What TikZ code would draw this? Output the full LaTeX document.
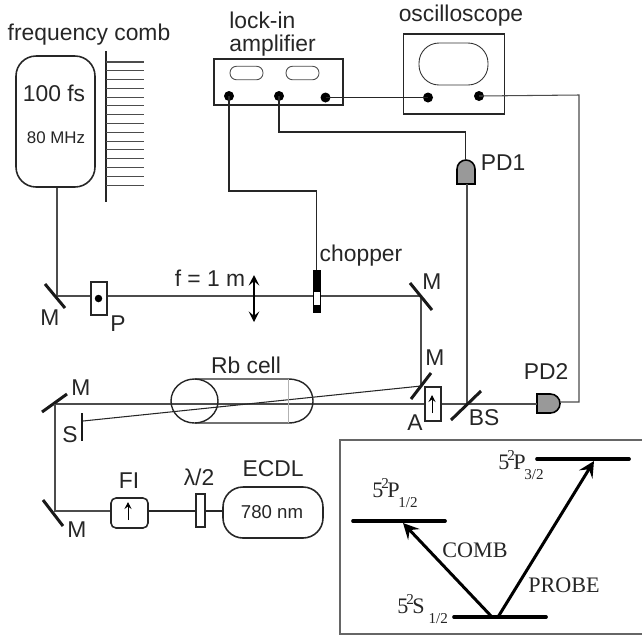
\documentclass[tikz,border=0pt]{standalone}
\usepackage{fontspec}
\setmainfont{Liberation Sans}
\newfontfamily\levelfont{Liberation Serif}
\usetikzlibrary{arrows.meta,calc}
\tikzset{
  beam/.style={line width=0.8pt,color=black!70},
  wire/.style={line width=0.6pt,color=black!85},
  mirror/.style={line width=1.7pt,color=black!90},
  device/.style={draw=black!85,line width=0.9pt,inner sep=0pt,fill=white},
  roundbox/.style={device,rounded corners=0.4cm},
  jack/.style={circle,fill=black,inner sep=0pt,minimum size=0.2cm},
  lab/.style={inner sep=0pt,font=\fontsize{13}{15}\selectfont,text=black!85},
  level/.style={line width=2.1pt,line cap=round},
  trans/.style={line width=1.7pt,-{Stealth[length=9pt,width=9pt,inset=3.5pt]}},
  levellab/.style={inner sep=0pt,anchor=base west,font=\fontsize{12.6}{14}\selectfont\levelfont,text=black!85},
  photo/.style={draw=black,line width=0.9pt,fill=black!40}
}
\newcommand{\termname}[2]{5\kern-1.2pt\raisebox{0.85ex}{\fontsize{8.6}{10}\selectfont 2}\kern-0.8pt #1\kern-0.8pt\raisebox{-1ex}{\fontsize{8.6}{10}\selectfont #2}}
\begin{document}
\begin{tikzpicture}[x=0.02cm,y=-0.02cm]
\useasboundingbox (0,0) rectangle (642,637);

% frequency comb
\node [roundbox,minimum width=1.58cm,minimum height=2.62cm] (comb) at (55.5,121.5) {};
\node [lab] (combname) at (89,35) {frequency comb};
\node [lab] (combpulse) at (54,93) {100 fs};
\node [inner sep=0pt,font=\fontsize{9.6}{11}\selectfont,text=black!85] (combrate) at (56,138) {80 MHz};
\draw [wire] (106,51) -- (106,202);
\foreach \i in {0,...,14}
  \draw [wire,black!70] (106,62+8.79*\i) -- (144,62+8.79*\i);

% lock-in amplifier
\node [device,minimum width=2.58cm,minimum height=0.92cm] (lockin) at (278.5,82) {};
\node [lab,anchor=west] (lockinname) at (229,20) {lock-in};
\node [lab,anchor=west] (lockinname2) at (229,46) {amplifier};
\node [draw=black!70,line width=0.5pt,rounded corners=0.13cm,minimum width=0.66cm,minimum height=0.27cm,inner sep=0pt] (knobA) at (246.5,73) {};
\node [draw=black!70,line width=0.5pt,rounded corners=0.13cm,minimum width=0.66cm,minimum height=0.27cm,inner sep=0pt] (knobB) at (302.5,73) {};
\node [jack] (refjack) at (229,96) {};
\node [jack] (sigjack) at (279,96) {};
\node [jack] (outjack) at (325.5,97.5) {};

% oscilloscope
\node [device,minimum width=2.02cm,minimum height=1.6cm] (scope) at (454,74) {};
\node [lab] (scopename) at (461,16) {oscilloscope};
\node [draw=black!80,line width=0.5pt,rounded corners=0.4cm,minimum width=1.38cm,minimum height=0.84cm,inner sep=0pt] (screen) at (453.5,64) {};
\node [jack] (chAjack) at (428,97.5) {};
\node [jack] (chBjack) at (479,96) {};

% detectors
\draw [photo] (457,184) [rounded corners=0.18cm] -- (457,160) -- (475,160) [sharp corners] -- (475,184) -- cycle;
\coordinate (pdonein) at (465.5,160);
\coordinate (pdoneout) at (467,184);
\node [lab] (pdonename) at (503,163) {PD1};
\draw [photo] (537,394) [rounded corners=0.19cm] -- (560,394) -- (560,413) [sharp corners] -- (537,413) -- cycle;
\coordinate (pdtwoin) at (537,404);
\coordinate (pdtwoout) at (560,402);
\node [lab] (pdtwoname) at (546,372) {PD2};

% comb beam
\coordinate (mcomb) at (57,296);
\coordinate (mfold) at (421,296);
\coordinate (mpick) at (421,386);
\draw [beam] (mcomb |- comb.south) -- (mcomb) -- (mfold) -- (mpick);
\draw [mirror] (45,284) -- (65,308);
\draw [mirror] (410,283) -- (432,310);
\draw [mirror] (411,399) -- (431,373);
\node [lab] (mcombname) at (50,318) {M};
\node [lab] (mfoldname) at (432,282) {M};
\node [lab] (mpickname) at (435,358) {M};
\node [device,minimum width=0.32cm,minimum height=0.66cm] (pol) at (99,298.5) {};
\node [circle,fill=black,inner sep=0pt,minimum size=0.15cm] (poldot) at (98.5,298.5) {};
\node [lab] (polname) at (118,324) {P};
\node [lab] (lensname) at (210,278) {f = 1 m};
\coordinate (lenstop) at (254,275);
\coordinate (lensbot) at (254,322);
\draw [line width=0.9pt,{Stealth[length=6pt,width=6pt,inset=2.5pt]}-{Stealth[length=6pt,width=6pt,inset=2.5pt]}] (lenstop) -- (lensbot);

% chopper
\node [draw=black,fill=white,line width=0.5pt,minimum width=0.14cm,minimum height=0.84cm,inner sep=0pt] (chopper) at (316.5,291) {};
\fill (313,270) rectangle (320,292);
\fill (313,305) rectangle (320,312);
\node [lab] (choppername) at (361,256) {chopper};

% wires
\draw [wire] (refjack.center) -- ++(0,95) -| (chopper.north);
\draw [wire] (sigjack.center) -- ++(0,36) -| (pdonein);
\draw [wire] (outjack.center) -- (chAjack.center);
\coordinate (wirecorner) at (579,95);
\draw [wire,black!70] (chBjack.center) -- (wirecorner) |- (pdtwoout);

% probe beam
\coordinate (mbottom) at (55,511);
\coordinate (mtop) at (55,404);
\coordinate (stopper) at (83,421);
\coordinate (bs) at (467,404);
\draw [beam] (mtop) -- (pdtwoin);
\draw [beam] (pdoneout) -- (bs);
\draw [wire] (stopper) -- (mpick);
\draw [mirror] (42,412) -- (67,394);
\draw [mirror] (43,500) -- (63,526);
\draw [mirror] (82,413) -- (82,441);
\draw [mirror] (451,420) -- (481,391);
\node [lab] (mtopname) at (81,388) {M};
\node [lab] (mbottomname) at (77,530) {M};
\node [lab] (stoppername) at (70,435) {S};
\node [lab] (bsname) at (484,418) {BS};

% Rb cell
\draw [line width=0.8pt,black!85] (194.5,401) ellipse [x radius=23.5,y radius=22];
\draw [line width=0.8pt,black!85] (195,379) -- (288,379) .. controls (305,379) and (313,390) .. (313,401) .. controls (313,412) and (305,423) .. (288,423) -- (195,423);
\draw [line width=0.5pt,black!30] (288,379) -- (288,423);
\node [lab] (cellname) at (246,365) {Rb cell};

% analyser
\node [device,minimum width=0.32cm,minimum height=0.68cm] (ana) at (433,404) {};
\draw [line width=0.5pt,-{Stealth[length=4pt,width=4pt,inset=1.5pt]}] (432,413) -- (432,395);
\node [lab] (ananame) at (415,423) {A};

% laser side
\node [roundbox,minimum width=2.0cm,minimum height=1.02cm] (ecdl) at (273,512.5) {};
\node [lab] (ecdlname) at (273,469) {ECDL};
\node [inner sep=0pt,font=\fontsize{10.6}{12}\selectfont,text=black!85] (ecdlwave) at (272,512) {780 nm};
\node [device,minimum width=0.18cm,minimum height=0.66cm] (plate) at (200.5,510.5) {};
\node [lab] (platename) at (199,477) {λ/2};
\node [device,rounded corners=0.1cm,minimum width=0.74cm,minimum height=0.6cm] (fi) at (129.5,513) {};
\draw [line width=0.5pt,-{Stealth[length=4pt,width=4pt,inset=1.5pt]}] (128,520) -- (128,502);
\node [lab] (finame) at (129,481) {FI};
\draw [beam] (mtop) -- (mbottom) -- (mbottom -| fi.west);
\draw [wire] (mbottom -| fi.east) -- (mbottom -| plate.west);
\draw [wire] (mbottom -| plate.east) -- (mbottom -| ecdl.west);

% level scheme
\draw [black!60,line width=0.7pt] (642,440) -- (340,440) -- (340,634) -- (642,634);
\coordinate (pone) at (403,523);
\coordinate (pthree) at (594,461);
\coordinate (ground) at (495,617);
\draw [level] (353,521) -- (445,521);
\draw [level] (537,459) -- (629,459);
\draw [level] (454,617) -- (546,617);
\draw [trans] ($(ground)+(-3,0)$) -- (pone);
\draw [trans] ($(ground)+(3,0)$) -- (pthree);
\node [levellab] (ponename) at (372,497) {\termname{P}{1/2}};
\node [levellab] (pthreename) at (498,469) {\termname{P}{3/2}};
\node [levellab] (groundname) at (397,613) {\termname{S\kern3pt}{1/2}};
\node [levellab,anchor=center] (combname2) at (475,550) {COMB};
\node [levellab,anchor=center] (probename) at (564,585) {PROBE};

\end{tikzpicture}
\end{document}
